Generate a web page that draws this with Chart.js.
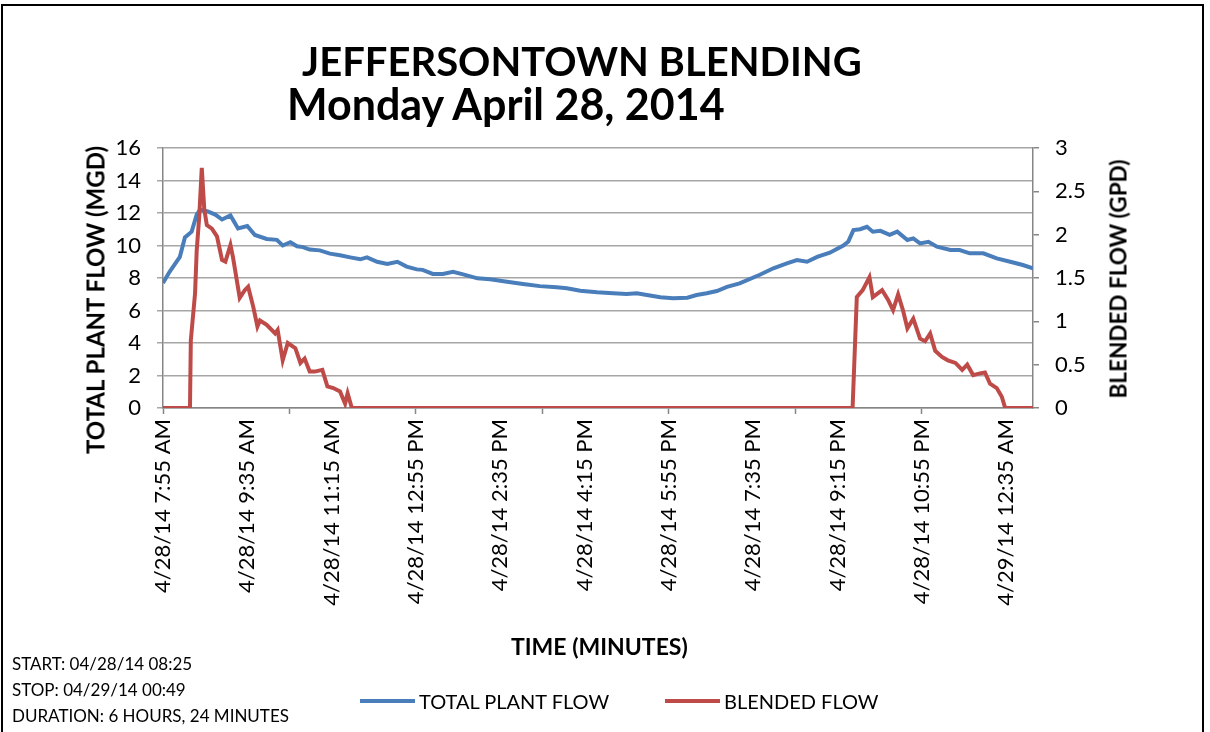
<!DOCTYPE html>
<html>
<head>
<meta charset="utf-8">
<script src="https://cdn.jsdelivr.net/npm/chart.js@4"></script>
<style>
  body { margin: 0; background: #fff; }
  #wrap { position: relative; width: 1210px; height: 732px; overflow: hidden; font-family: Lato, "Open Sans", sans-serif; color: #000; }
  #frame { position: absolute; left: 1px; top: 4px; width: 1203px; height: 740px; border: 2px solid #000; box-sizing: border-box; }
  canvas { position: absolute; left: 0; top: 0; }
  .t { position: absolute; white-space: nowrap; }
  .title { font-weight: bold; }
  .axt { font-weight: bold; font-size: 23px; }
  .rot { transform: translate(-50%, -50%) rotate(-90deg); }
  .info { font-size: 17px; left: 12px; }
  .leg { position: absolute; top: 689px; font-size: 20px; display: flex; align-items: center; }
  .leg span.ln { display: inline-block; width: 55px; height: 4px; margin-right: 4px; }
</style>
</head>
<body>
<div id="wrap">
  <div id="frame"></div>
  <canvas id="chart" width="1210" height="732"></canvas>
  <div class="t title" style="left:302px; top:37px; font-size:40px;">JEFFERSONTOWN BLENDING</div>
  <div class="t title" style="left:287px; top:78px; font-size:43px;">Monday April 28, 2014</div>
  <div class="t axt rot" style="left:95px; top:300px; font-size:24px;">TOTAL PLANT FLOW (MGD)</div>
  <div class="t axt rot" style="left:1118px; top:279px; font-size:22.5px;">BLENDED FLOW (GPD)</div>
  <div class="t axt" style="left:511px; top:632px;">TIME (MINUTES)</div>
  <div class="t info" style="top:653px;">START: 04/28/14 08:25</div>
  <div class="t info" style="top:679px;">STOP: 04/29/14 00:49</div>
  <div class="t info" style="top:705px;">DURATION: 6 HOURS, 24 MINUTES</div>
  <div class="leg" style="left:360px;"><span class="ln" style="background:#4a7ebb"></span>TOTAL PLANT FLOW</div>
  <div class="leg" style="left:665px;"><span class="ln" style="background:#be4b48"></span>BLENDED FLOW</div>
</div>
<script>
// minutes after 4/28/14 7:55 AM
const plantMinutes = [0, 8, 20, 26, 34, 40, 44, 53, 62, 70, 80, 89, 100, 109, 123, 135, 142, 151, 159, 166, 174, 186, 198, 210, 222, 234, 242, 254, 266, 278, 289, 301, 308, 320, 332, 344, 356, 373, 388, 408, 427, 447, 467, 479, 495, 515, 534, 550, 562, 574, 590, 605, 622, 633, 645, 657, 669, 684, 708, 724, 740, 752, 764, 776, 791, 807, 813, 819, 827, 835, 842, 851, 862, 871, 883, 890, 898, 908, 918, 934, 945, 957, 973, 989, 1005, 1020, 1032];
const plantFlow = [7.7, 8.4, 9.3, 10.5, 10.85, 11.9, 12.2, 12.1, 11.9, 11.6, 11.85, 11.05, 11.2, 10.65, 10.4, 10.35, 10.0, 10.2, 9.95, 9.9, 9.75, 9.7, 9.5, 9.4, 9.27, 9.15, 9.27, 9.0, 8.86, 9.0, 8.7, 8.53, 8.5, 8.25, 8.25, 8.38, 8.22, 7.98, 7.92, 7.77, 7.63, 7.5, 7.43, 7.37, 7.22, 7.12, 7.06, 7.02, 7.06, 6.95, 6.81, 6.75, 6.79, 6.95, 7.06, 7.2, 7.45, 7.67, 8.2, 8.6, 8.9, 9.1, 9.0, 9.3, 9.56, 10.0, 10.25, 10.95, 11.0, 11.15, 10.85, 10.9, 10.65, 10.85, 10.34, 10.44, 10.13, 10.23, 9.93, 9.72, 9.72, 9.52, 9.52, 9.21, 9.0, 8.8, 8.6];

const blendMinutes = [0, 32, 33, 38, 40, 43, 46, 49, 52, 58, 64, 70, 74, 80, 83, 91, 97, 101, 107, 112, 115, 123, 133, 136, 142, 148, 157, 163, 168, 174, 180, 189, 195, 202, 210, 216, 219, 224, 818, 823, 830, 838, 842, 853, 860, 866, 872, 878, 883, 890, 898, 904, 910, 916, 924, 931, 940, 948, 954, 961, 969, 975, 981, 989, 995, 999, 1032];
const blendFlow = [0, 0, 0.78, 1.32, 1.82, 2.21, 2.77, 2.29, 2.11, 2.07, 1.98, 1.71, 1.69, 1.88, 1.74, 1.27, 1.36, 1.40, 1.17, 0.94, 1.01, 0.96, 0.86, 0.90, 0.55, 0.75, 0.69, 0.52, 0.57, 0.42, 0.42, 0.44, 0.25, 0.23, 0.19, 0.05, 0.17, 0, 0, 1.28, 1.36, 1.51, 1.28, 1.36, 1.25, 1.13, 1.31, 1.12, 0.92, 1.03, 0.80, 0.77, 0.86, 0.66, 0.59, 0.55, 0.52, 0.44, 0.50, 0.38, 0.40, 0.41, 0.28, 0.23, 0.13, 0, 0];

const xLabelMinutes = [0, 100, 200, 300, 400, 500, 600, 700, 800, 900, 1000];
const xLabels = ['4/28/14 7:55 AM', '4/28/14 9:35 AM', '4/28/14 11:15 AM', '4/28/14 12:55 PM', '4/28/14 2:35 PM', '4/28/14 4:15 PM', '4/28/14 5:55 PM', '4/28/14 7:35 PM', '4/28/14 9:15 PM', '4/28/14 10:55 PM', '4/29/14 12:35 AM'];
const xMarkMinutes = [0, 150, 300, 450, 600, 750, 900];

const axisGray = '#868686';
const gridGray = '#a6a6a6';
const fontFamily = 'Lato, "Open Sans", sans-serif';

const toPoints = (xs, ys) => xs.map((x, i) => ({ x: x, y: ys[i] }));

new Chart(document.getElementById('chart'), {
  type: 'line',
  data: {
    datasets: [{
      label: 'TOTAL PLANT FLOW',
      data: toPoints(plantMinutes, plantFlow),
      borderColor: '#4a7ebb',
      borderWidth: 4,
      pointRadius: 0,
      yAxisID: 'y',
      order: 1
    }, {
      label: 'BLENDED FLOW',
      data: toPoints(blendMinutes, blendFlow),
      borderColor: '#be4b48',
      borderWidth: 4,
      pointRadius: 0,
      yAxisID: 'y2',
      order: 0
    }]
  },
  options: {
    responsive: false,
    animation: false,
    layout: { padding: { top: 148, left: 0, right: 0, bottom: 0 } },
    plugins: { legend: { display: false }, tooltip: { enabled: false } },
    scales: {
      x: {
        type: 'linear',
        min: 0,
        max: 1032,
        afterFit: (s) => { s.height = 732 - 408; },
        afterBuildTicks: (s) => {
          const vals = [...new Set([...xLabelMinutes, ...xMarkMinutes])].sort((a, b) => a - b);
          s.ticks = vals.map(v => ({ value: v }));
        },
        grid: {
          drawOnChartArea: false,
          tickLength: 6,
          tickColor: (c) => xMarkMinutes.includes(c.tick.value) ? axisGray : 'rgba(0,0,0,0)',
          tickWidth: 1.5
        },
        border: { color: axisGray, width: 1.5 },
        ticks: {
          autoSkip: false,
          minRotation: 90,
          maxRotation: 90,
          padding: 5,
          color: '#000',
          font: { family: fontFamily, size: 22 },
          callback: (v) => {
            const i = xLabelMinutes.indexOf(v);
            return i >= 0 ? xLabels[i] : '';
          }
        }
      },
      y: {
        position: 'left',
        min: 0,
        max: 16,
        afterFit: (s) => { s.width = 163; },
        grid: { color: gridGray, lineWidth: 1.5, tickLength: 6 },
        border: { color: axisGray, width: 1.5 },
        ticks: { stepSize: 2, padding: 16, color: '#000', font: { family: fontFamily, size: 22 } }
      },
      y2: {
        position: 'right',
        min: 0,
        max: 3,
        afterFit: (s) => { s.width = 1210 - 1033; },
        grid: { drawOnChartArea: false, color: axisGray, lineWidth: 1.5, tickLength: 6 },
        border: { color: axisGray, width: 1.5 },
        ticks: { stepSize: 0.5, padding: 16, color: '#000', font: { family: fontFamily, size: 22 }, callback: (v) => String(v) }
      }
    }
  }
});
</script>
</body>
</html>
